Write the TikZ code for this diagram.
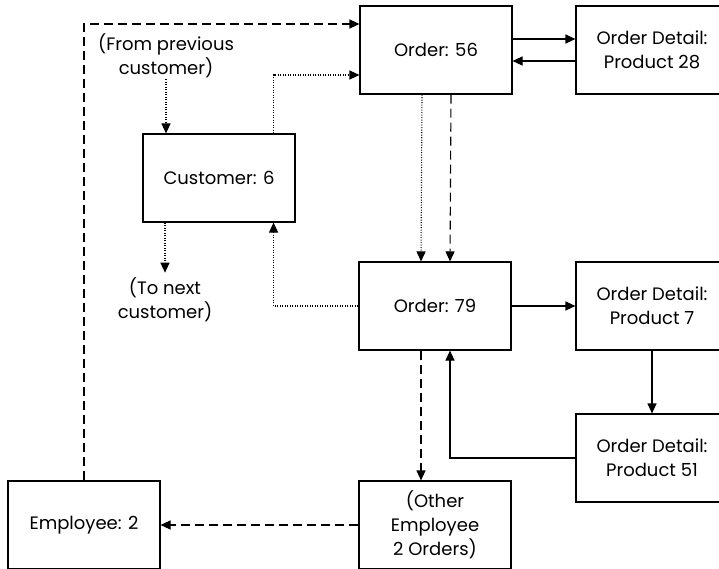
\documentclass[tikz,border=0pt]{standalone}
\usepackage{fontspec}
\setmainfont{Poppins}
\usepackage{tikz}
\usetikzlibrary{positioning}
\usetikzlibrary{calc}
\usetikzlibrary{arrows.meta}

\tikzset{
  recbox/.style={rectangle, draw, line width=1.1pt, minimum width=152pt, minimum height=88pt,
    align=center, inner sep=2pt, font=\fontsize{18}{24}\selectfont},
  lbl/.style={align=center, inner sep=1pt, font=\fontsize{18}{24}\selectfont},
  link/.style={line width=1.1pt, -{Triangle[length=10pt,width=9pt]}},
  dsh/.style={link, dash pattern=on 9pt off 5pt},
  dtt/.style={link, dash pattern=on 1pt off 1.5pt}
}

\begin{document}
\begin{tikzpicture}[x=1pt,y=-1pt]
    \useasboundingbox (0,0) rectangle (719,569);
    \clip (0,0) rectangle (719,569);
    % records
    \node[recbox] (ord56) at (436,50) {Order: 56};
    \node[recbox] (det28) at (652,50) {Order Detail:\\Product 28};
    \node[recbox] (cust) at (219,178) {Customer: 6};
    \node[recbox] (ord79) at (435,306) {Order: 79};
    \node[recbox] (det7) at (652,306) {Order Detail:\\Product 7};
    \node[recbox] (det51) at (652,458) {Order Detail:\\Product 51};
    \node[recbox] (other) at (435,525) {(Other\\Employee\\2 Orders)};
    \node[recbox] (emp) at (84,525) {Employee: 2};
    \node[lbl] (prevcust) at (166,56) {(From previous\\customer)};
    \node[lbl] (nextcust) at (165,300) {(To next\\customer)};
    % customer chain (dotted)
    \draw[dtt] (prevcust.south) -- (prevcust.south |- cust.north);
    \draw[dtt] (cust.south -| nextcust.north) -- ([yshift=4pt]nextcust.north);
    \draw[dtt] ([xshift=-22pt]cust.north east) |- ([yshift=-25pt]ord56.west);
    \draw[dtt] ([xshift=-14pt]ord56.south) -- ([xshift=-14pt]ord79.north);
    \draw[dtt] (ord79.west) -| ([xshift=-22pt]cust.south east);
    % employee chain (dashed)
    \draw[dsh] (emp.north) |- ([yshift=26pt]ord56.west);
    \draw[dsh] ([xshift=15pt]ord56.south) -- ([xshift=15pt]ord79.north);
    \draw[dsh] ([xshift=-14pt]ord79.south) -- ([xshift=-14pt]other.north);
    \draw[dsh] (other.west) -- (emp.east);
    % order details (solid)
    \draw[link] ([yshift=11pt]ord56.east) -- ([yshift=11pt]det28.west);
    \draw[link] ([yshift=-11pt]det28.west) -- ([yshift=-11pt]ord56.east);
    \draw[link] (ord79.east) -- (det7.west);
    \draw[link] (det7.south) -- (det51.north);
    \draw[link] (det51.west) -| ([xshift=15pt]ord79.south);
\end{tikzpicture}
\end{document}
